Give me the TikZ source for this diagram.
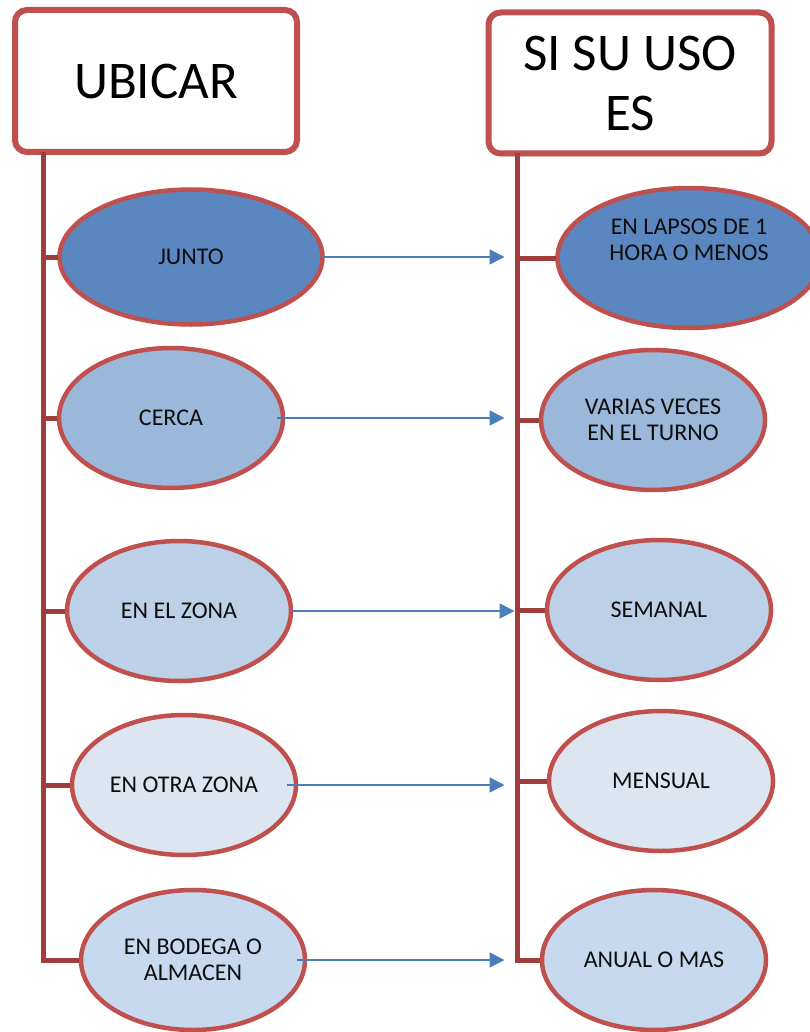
\documentclass[tikz,border=0pt]{standalone}
\usepackage{fontspec}
\setmainfont{Carlito}
\usepackage{xcolor}
\usetikzlibrary{shapes.geometric, arrows.meta, shadows}
\definecolor{borde}{HTML}{C0504D}
\definecolor{tronco}{HTML}{9E3D3B}
\definecolor{flecha}{HTML}{4A7EBB}
\definecolor{nivelA}{HTML}{5A87C0}
\definecolor{nivelB}{HTML}{9BB7D9}
\definecolor{nivelC}{HTML}{BCD0E7}
\definecolor{nivelD}{HTML}{DCE5F0}
\definecolor{nivelE}{HTML}{C6D9EF}
\tikzset{
  titulo/.style = {draw = borde, line width = 6pt, rounded corners = 12pt, fill = white, inner sep = 4pt, outer sep = 0pt, align = center, font = \fontsize{53}{60}\selectfont, drop shadow = {shadow xshift = 1pt, shadow yshift = -3pt, opacity = 0.3}},
  opcion/.style = {ellipse, draw = borde, line width = 4.5pt, inner sep = 0pt, outer sep = 0pt, align = center, text = black!95, font = \fontsize{24}{26}\selectfont, minimum width = 224pt, minimum height = 140pt},
  rama/.style = {draw = tronco, line width = 5pt},
  flechita/.style = {draw = flecha, line width = 1.8pt, -{Triangle[length = 15pt, width = 15pt]}}
}

\begin{document}
\begin{tikzpicture}[x = 1pt, y = -1pt]
    \useasboundingbox (0,0) rectangle (809,1032);
    % Encabezados
    \node[titulo, minimum width = 282pt, minimum height = 142pt] (ubicar) at (156,81) {UBICAR};
    \node[titulo, minimum width = 283pt, minimum height = 141pt] (uso) at (630,83) {SI SU USO\\ES};
    \coordinate (ltop) at ([xshift = 28pt]ubicar.south west);
    \coordinate (rtop) at ([xshift = 29pt]uso.south west);
    % Donde ubicar
    \node[opcion, fill = nivelA, minimum width = 263pt, minimum height = 135pt] (junto) at (191,257) {JUNTO};
    \node[opcion, fill = nivelB] (cerca) at (171,418) {CERCA};
    \node[opcion, fill = nivelC] (zona) at (179,611) {EN EL ZONA};
    \node[opcion, fill = nivelD] (otrazona) at (184,785) {EN OTRA ZONA};
    \node[opcion, fill = nivelE] (bodega) at (193,960) {EN BODEGA O\\ALMACEN};
    % Frecuencia de uso
    \node[opcion, fill = nivelA, minimum width = 263pt] (lapsos) at (689,258) {};
    \node[align = center, text = black!95, font = \fontsize{24}{26}\selectfont] (lapsostxt) at ([yshift = 18pt]lapsos.center) {EN LAPSOS DE 1\\HORA O MENOS};
    \node[opcion, fill = nivelB] (varias) at (653,420) {VARIAS VECES\\EN EL TURNO};
    \node[opcion, fill = nivelC] (semanal) at (659,610) {SEMANAL};
    \node[opcion, fill = nivelD] (mensual) at (661,781) {MENSUAL};
    \node[opcion, fill = nivelE] (anual) at (654,960) {ANUAL O MAS};
    % Troncos y ramas
    \draw[rama] (ltop) -- (ltop |- bodega.west) -- ([xshift = -2pt]bodega.west);
    \draw[rama] (ltop |- junto.west) -- ([xshift = -2pt]junto.west);
    \draw[rama] (ltop |- cerca.west) -- ([xshift = -2pt]cerca.west);
    \draw[rama] (ltop |- zona.west) -- ([xshift = -2pt]zona.west);
    \draw[rama] (ltop |- otrazona.west) -- ([xshift = -2pt]otrazona.west);
    \draw[rama] (rtop) -- (rtop |- anual.west) -- ([xshift = -2pt]anual.west);
    \draw[rama] (rtop |- lapsos.west) -- ([xshift = -2pt]lapsos.west);
    \draw[rama] (rtop |- varias.west) -- ([xshift = -2pt]varias.west);
    \draw[rama] (rtop |- semanal.west) -- ([xshift = -2pt]semanal.west);
    \draw[rama] (rtop |- mensual.west) -- ([xshift = -2pt]mensual.west);
    % Flechas
    \draw[flechita] ([xshift = -1pt]junto.east) -- ([xshift = -13pt]rtop |- junto.east);
    \draw[flechita] ([xshift = -6pt]cerca.east) -- ([xshift = -13pt]rtop |- cerca.east);
    \draw[flechita] (zona.east) -- ([xshift = -3pt]rtop |- zona.east);
    \draw[flechita] ([xshift = -9pt]otrazona.east) -- ([xshift = -13pt]rtop |- otrazona.east);
    \draw[flechita] ([xshift = -8pt]bodega.east) -- ([xshift = -13pt]rtop |- bodega.east);
\end{tikzpicture}
\end{document}
